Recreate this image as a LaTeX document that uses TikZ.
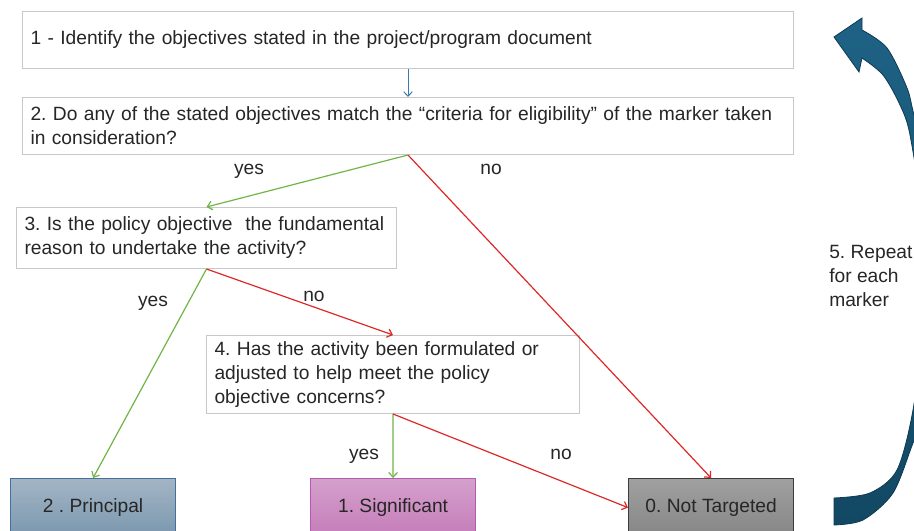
\documentclass[tikz,border=0pt]{standalone}
\usepackage{fontspec}
\setmainfont{Liberation Sans}
\usetikzlibrary{arrows.meta}
\frenchspacing

\definecolor{txt}{RGB}{38,38,38}
\definecolor{boxline}{RGB}{200,200,200}
\definecolor{yesgreen}{RGB}{112,180,70}
\definecolor{nored}{RGB}{222,40,40}
\definecolor{stepblue}{RGB}{58,122,168}
\definecolor{prtop}{RGB}{163,181,197}
\definecolor{prbot}{RGB}{122,151,174}
\definecolor{prline}{RGB}{65,113,156}
\definecolor{sgtop}{RGB}{213,160,204}
\definecolor{sgbot}{RGB}{196,124,185}
\definecolor{sgline}{RGB}{180,90,176}
\definecolor{nttop}{RGB}{160,160,160}
\definecolor{ntbot}{RGB}{134,134,134}
\definecolor{ntline}{RGB}{60,60,60}
\definecolor{arrtop}{RGB}{30,98,133}
\definecolor{arrbot}{RGB}{18,72,99}
\definecolor{arrline}{RGB}{14,58,82}

\begin{document}
\begin{tikzpicture}[x=0.75pt,y=0.75pt,yscale=-1,xscale=1,
  every node/.style={text=txt,font=\fontsize{14.4}{18}\selectfont},
  qbox/.style={draw=boxline,fill=white,line width=0.75pt,anchor=north west,inner xsep=6pt,inner ysep=0pt,align=left},
  leaf/.style={line width=0.9pt,anchor=north west,minimum width=123.75pt,minimum height=43.5pt,inner sep=0pt},
  lbl/.style={inner sep=0pt,anchor=base},
  blueline/.style={draw=stepblue,line width=0.75pt,-{Straight Barb[length=3.5pt,width=6.5pt]}},
  yesline/.style={draw=yesgreen,line width=0.9pt,-{Straight Barb[length=3.5pt,width=6.5pt]}},
  noline/.style={draw=nored,line width=0.9pt,-{Straight Barb[length=3.5pt,width=6.5pt]}}]
\useasboundingbox (0,0) rectangle (914,531);
\clip (0,0) rectangle (914,531);

%Shape: Curved Arrow
\shade[top color=arrtop,bottom color=arrbot,draw=arrline,line width=0.6pt]
  plot[smooth] coordinates {(834,498) (870,493) (897,470) (913,410) (922,330) (922,220) (910,135) (900,105) (883,75) (862,58)}
  -- (859,72) -- (834,37) -- (862,18) -- (862,30)
  -- plot[smooth] coordinates {(862,30) (887,48) (907,88) (914,115) (936,200) (940,300) (930,400) (913,443) (893,493) (863,520) (834,525)} -- cycle;

%Shape: Rectangle
\node[qbox,text width=566.25pt,minimum height=42.75pt] (q1) at (22,11) {1 - Identify the objectives stated in the project/program document};
%Shape: Rectangle
\node[qbox,text width=566.25pt,minimum height=42.75pt] (q2) at (22,97) {\mbox{2. Do any of the stated objectives match the “criteria for eligibility” of the marker taken}\\in consideration?};
%Shape: Rectangle
\node[qbox,text width=273pt,minimum height=45.75pt] (q3) at (16,207) {\mbox{3. Is the policy objective\ \ the fundamental}\\reason to undertake the activity?};
%Shape: Rectangle
\node[qbox,text width=267.75pt,minimum height=58.5pt] (q4) at (206,335) {4. Has the activity been formulated or\\adjusted to help meet the policy\\objective concerns?};

%Shape: Rectangle
\node[leaf,top color=prtop,bottom color=prbot,draw=prline] (r2) at (10,478) {2 . Principal};
%Shape: Rectangle
\node[leaf,top color=sgtop,bottom color=sgbot,draw=sgline] (r1) at (310,478) {1. Significant};
%Shape: Rectangle
\node[leaf,top color=nttop,bottom color=ntbot,draw=ntline] (r0) at (628,478) {0. Not Targeted};

%Straight Lines
\draw[blueline] (q1.south) -- (q2.north);
\draw[yesline] (q2.south) -- (q3.north);
\draw[noline] (q2.south) -- (r0.north);
\draw[yesline] (q3.south) -- (r2.north);
\draw[noline] (q3.south) -- (q4.north);
\draw[yesline] (q4.south) -- (r1.north);
\draw[noline] (q4.south) -- (r0.west);

% Text Node
\node[lbl] (y2) at (249,175) {yes};
\node[lbl] (n2) at (491,175) {no};
\node[lbl] (y3) at (153,306) {yes};
\node[lbl] (n3) at (314,301) {no};
\node[lbl] (y4) at (364,459) {yes};
\node[lbl] (n4) at (561,459) {no};
% Text Node
\node[lbl,anchor=base west,align=left] (rep) at (829,306) {5. Repeat\\for each\\marker};
\end{tikzpicture}
\end{document}
